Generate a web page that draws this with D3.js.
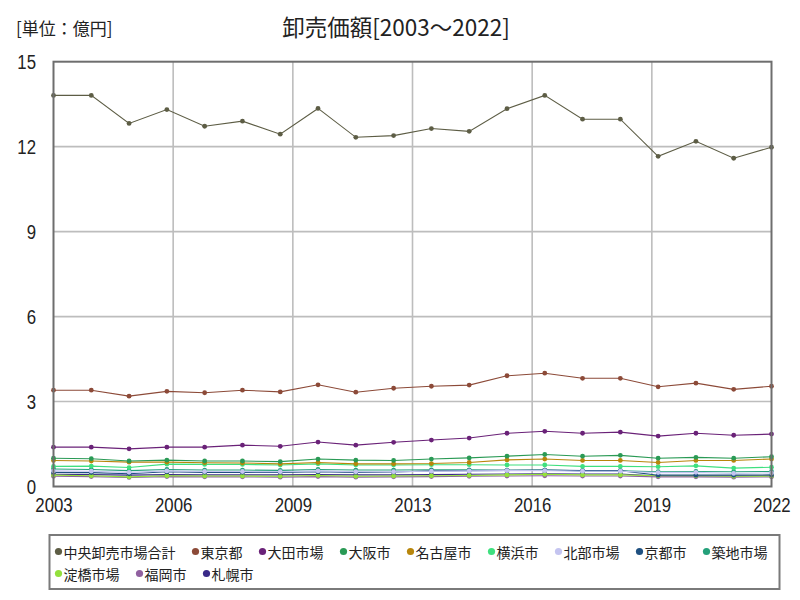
<!DOCTYPE html>
<html><head><meta charset="utf-8">
<script src="https://cdn.jsdelivr.net/npm/d3@7"></script>
<style>
body{margin:0;background:#fff;}
svg{display:block;}
.num{font-family:"Liberation Sans","Noto Sans",sans-serif;}
.cjk{font-family:"Noto Sans CJK JP","Noto Sans",sans-serif;}
</style>
</head><body>
<svg id="chart" width="800" height="600"></svg>
<script>
const years = [2003,2004,2005,2006,2007,2008,2009,2010,2011,2012,2013,2014,2015,2016,2017,2018,2019,2020,2021,2022];
const seriesNames = ["中央卸売市場合計","東京都","大田市場","大阪市","名古屋市","横浜市","北部市場","京都市","築地市場","淀橋市場","福岡市","札幌市"];
const seriesColors = ["#5d5d45","#8c4a38","#6a2278","#2a9a55","#b8860b","#3fe07f","#c4c4f0","#1f5080","#24a07a","#93e03c","#9060a0","#3a2a88"];
const vTotal    = [13.81,13.81,12.82,13.31,12.72,12.90,12.44,13.35,12.33,12.39,12.64,12.54,13.34,13.81,12.97,12.97,11.66,12.19,11.59,11.98];
const vTokyo    = [3.40,3.40,3.19,3.36,3.31,3.40,3.34,3.59,3.33,3.47,3.54,3.58,3.91,4.00,3.82,3.82,3.52,3.65,3.43,3.54];
const vOta      = [1.39,1.39,1.33,1.39,1.39,1.46,1.42,1.57,1.46,1.56,1.64,1.71,1.88,1.95,1.88,1.92,1.78,1.88,1.81,1.85];
const vOsaka    = [1.00,0.98,0.90,0.93,0.90,0.90,0.88,0.97,0.93,0.92,0.97,1.01,1.07,1.13,1.07,1.10,1.00,1.03,1.00,1.05];
const vNagoya   = [0.92,0.90,0.86,0.86,0.84,0.83,0.80,0.85,0.80,0.80,0.81,0.85,0.94,0.97,0.92,0.92,0.85,0.92,0.92,0.97];
const vYokohama = [0.71,0.72,0.67,0.79,0.78,0.78,0.76,0.80,0.76,0.76,0.77,0.77,0.76,0.76,0.71,0.71,0.70,0.73,0.65,0.68];
const vHokubu   = [0.55,0.54,0.50,0.55,0.53,0.53,0.52,0.55,0.52,0.52,0.54,0.55,0.56,0.56,0.54,0.54,0.49,0.50,0.46,0.48];
const vKyoto    = [0.50,0.49,0.45,0.52,0.50,0.50,0.50,0.52,0.50,0.51,0.55,0.56,0.57,0.58,0.56,0.56,0.40,0.40,0.40,0.41];
const vTsukiji  = [0.62,0.60,0.56,0.60,0.58,0.58,0.57,0.60,0.58,0.58,0.59,0.59,0.57,0.58,0.55,0.55,0.52,0.53,0.52,0.53];
const vYodobashi= [0.40,0.38,0.34,0.38,0.37,0.37,0.36,0.39,0.36,0.37,0.38,0.39,0.41,0.43,0.41,0.41,0.38,0.38,0.36,0.37];
const vFukuoka  = [0.36,0.35,0.32,0.35,0.34,0.34,0.33,0.35,0.33,0.34,0.35,0.36,0.37,0.38,0.37,0.37,0.34,0.34,0.33,0.34];
const vSapporo  = [0.43,0.42,0.40,0.42,0.41,0.41,0.41,0.42,0.41,0.41,0.42,0.43,0.44,0.45,0.44,0.44,0.37,0.37,0.37,0.38];
const seriesValues = [vTotal,vTokyo,vOta,vOsaka,vNagoya,vYokohama,vHokubu,vKyoto,vTsukiji,vYodobashi,vFukuoka,vSapporo];
const yTicks = [0,3,6,9,12,15];
const xTickLabels = ["2003","2006","2009","2013","2016","2019","2022"];
const titleText = "卸売価額[2003～2022]";
const unitText = "[単位：億円]";

const svg = d3.select("#chart");
const L = 53.5, R = 771.5, T = 61.7, B = 486.5;
const x = d3.scaleLinear().domain([years[0], years[years.length-1]]).range([L, R]);
const y = d3.scaleLinear().domain([0, 15]).range([B, T]);
const xTickVals = xTickLabels.map((_, i) => years[0] + (years[years.length-1]-years[0]) * i / (xTickLabels.length-1));

// gridlines
const g = svg.append("g");
g.selectAll("line.vg").data(xTickVals.slice(1,-1)).join("line")
  .attr("x1", d=>x(d)).attr("x2", d=>x(d)).attr("y1", T).attr("y2", B)
  .attr("stroke", "#bdbdbd").attr("stroke-width", 1.6);
g.selectAll("line.hg").data(yTicks.slice(1,-1)).join("line")
  .attr("x1", L).attr("x2", R).attr("y1", d=>y(d)).attr("y2", d=>y(d))
  .attr("stroke", "#bdbdbd").attr("stroke-width", 1.6);

// axes labels via d3 axes
const xAxis = d3.axisBottom(x).tickValues(xTickVals).tickFormat((d,i)=>xTickLabels[i]).tickSize(0).tickPadding(11);
const xa = svg.append("g").attr("transform", `translate(0,${B})`).call(xAxis);
xa.select(".domain").remove();
xa.selectAll("text").attr("class","num").attr("font-size", 21).attr("fill","#222")
  .attr("font-family", null).attr("transform","scale(0.8,1)");

const yAxis = d3.axisLeft(y).tickValues(yTicks).tickSize(0).tickPadding(0);
const ya = svg.append("g").attr("transform", `translate(36,0)`).call(yAxis);
ya.select(".domain").remove();
ya.selectAll("text").attr("class","num").attr("font-size", 21).attr("fill","#222")
  .attr("font-family", null).attr("transform","scale(0.8,1)");

// series lines
const line = d3.line().x((d,i)=>x(years[i])).y(d=>y(d));
const order = d3.range(seriesNames.length).reverse();
order.forEach(si => {
  const vals = seriesValues[si];
  svg.append("path").datum(vals).attr("d", line)
    .attr("fill","none").attr("stroke", seriesColors[si]).attr("stroke-width", 1.1);
  svg.append("g").selectAll("circle").data(vals).join("circle")
    .attr("cx", (d,i)=>x(years[i])).attr("cy", d=>y(d)).attr("r", 2.4)
    .attr("fill", seriesColors[si]);
});

// frame
svg.append("rect").attr("x", L).attr("y", T).attr("width", R-L).attr("height", B-T)
  .attr("fill","none").attr("stroke","#6e6e6e").attr("stroke-width", 2);

// title and unit
svg.append("text").attr("class","cjk").attr("x", 396).attr("y", 36).attr("text-anchor","middle")
  .attr("font-size", 22.5).attr("fill","#222").text(titleText);
svg.append("text").attr("class","cjk").attr("x", 16).attr("y", 35)
  .attr("font-size", 17).attr("fill","#222").text(unitText);

// legend
const LG = {x: 49.5, y: 535, w: 730, h: 54};
svg.append("rect").attr("x", LG.x).attr("y", LG.y).attr("width", LG.w).attr("height", LG.h)
  .attr("fill","#fff").attr("stroke","#7a7a7a").attr("stroke-width", 2);
let cx = 58.5, row = 0;
const rowY = [551.5, 573.5];
seriesNames.forEach((name, si) => {
  const t = svg.append("text").attr("class","cjk").attr("font-size", 14).attr("fill","#222")
    .attr("dominant-baseline","central").text(name);
  const w = t.node().getComputedTextLength();
  if (cx + 7 + w > LG.x + LG.w - 4) { row++; cx = 58.5; }
  t.attr("x", cx + 5).attr("y", rowY[row]);
  svg.append("circle").attr("cx", cx).attr("cy", rowY[row]).attr("r", 3.6).attr("fill", seriesColors[si]);
  cx += 5 + w + 20;
});
</script>
</body></html>
